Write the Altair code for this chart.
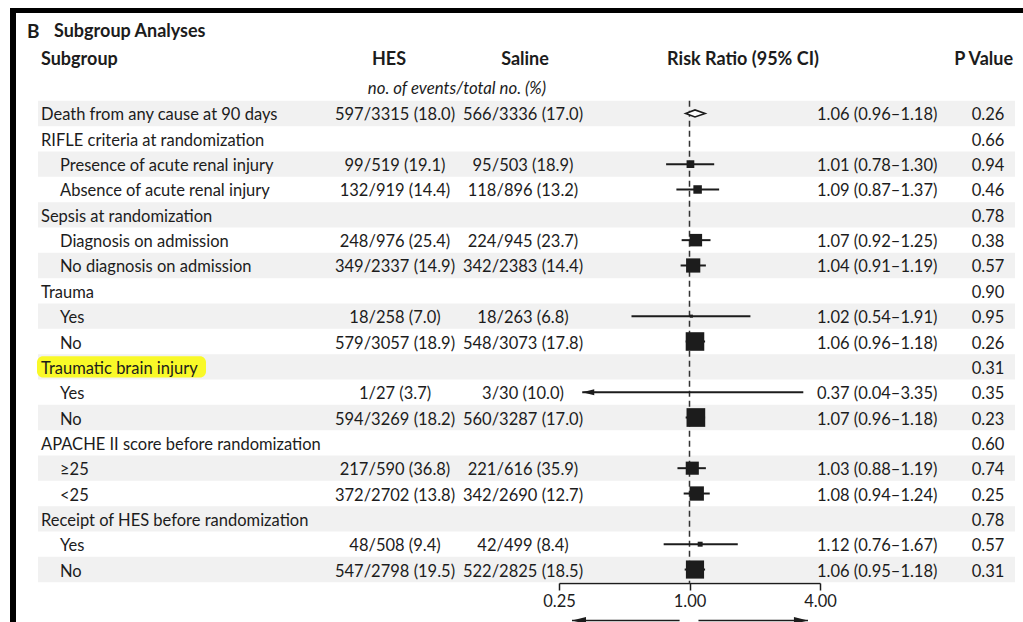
import altair as alt
import pandas as pd

# ---- subgroup table -------------------------------------------------------
subgroups = [
    "Death from any cause at 90 days",
    "RIFLE criteria at randomization",
    "Presence of acute renal injury",
    "Absence of acute renal injury",
    "Sepsis at randomization",
    "Diagnosis on admission",
    "No diagnosis on admission",
    "Trauma",
    "Yes",
    "No",
    "Traumatic brain injury",
    "Yes",
    "No",
    "APACHE II score before randomization",
    "\u226525",
    "<25",
    "Receipt of HES before randomization",
    "Yes",
    "No",
]
indented = [False, False, True, True, False, True, True, False, True, True,
            False, True, True, False, True, True, False, True, True]

hes_events = [597, None, 99, 132, None, 248, 349, None, 18, 579, None, 1, 594, None, 217, 372, None, 48, 547]
hes_total = [3315, None, 519, 919, None, 976, 2337, None, 258, 3057, None, 27, 3269, None, 590, 2702, None, 508, 2798]
hes_pct = [18.0, None, 19.1, 14.4, None, 25.4, 14.9, None, 7.0, 18.9, None, 3.7, 18.2, None, 36.8, 13.8, None, 9.4, 19.5]

sal_events = [566, None, 95, 118, None, 224, 342, None, 18, 548, None, 3, 560, None, 221, 342, None, 42, 522]
sal_total = [3336, None, 503, 896, None, 945, 2383, None, 263, 3073, None, 30, 3287, None, 616, 2690, None, 499, 2825]
sal_pct = [17.0, None, 18.9, 13.2, None, 23.7, 14.4, None, 6.8, 17.8, None, 10.0, 17.0, None, 35.9, 12.7, None, 8.4, 18.5]

risk_ratio = [1.06, None, 1.01, 1.09, None, 1.07, 1.04, None, 1.02, 1.06, None, 0.37, 1.07, None, 1.03, 1.08, None, 1.12, 1.06]
ci_low = [0.96, None, 0.78, 0.87, None, 0.92, 0.91, None, 0.54, 0.96, None, 0.04, 0.96, None, 0.88, 0.94, None, 0.76, 0.95]
ci_high = [1.18, None, 1.30, 1.37, None, 1.25, 1.19, None, 1.91, 1.18, None, 3.35, 1.18, None, 1.19, 1.24, None, 1.67, 1.18]

p_values = ["0.26", "0.66", "0.94", "0.46", "0.78", "0.38", "0.57", "0.90", "0.95", "0.26",
            "0.31", "0.35", "0.23", "0.60", "0.74", "0.25", "0.78", "0.57", "0.31"]

axis_ticks = [0.25, 1.0, 4.0]
display_floor = 0.32          # CIs reaching below this are drawn as arrows
highlight_label = "Traumatic brain injury"

INK = "#1c1c1c"
BAND = "#f1f1f1"
FONT = "Lato"
FS = 16.5
HFS = 18
DY = 2


def counts(e, t, p):
    if e is None:
        return ""
    return f"{e}/{t} ({p:.1f})"


rows = []
for i, name in enumerate(subgroups):
    rr, lo, hi = risk_ratio[i], ci_low[i], ci_high[i]
    rec = dict(
        row=i,
        label=name,
        indent=indented[i],
        hes=counts(hes_events[i], hes_total[i], hes_pct[i]),
        sal=counts(sal_events[i], sal_total[i], sal_pct[i]),
        p=p_values[i],
        rr=rr, lo=lo, hi=hi,
        rr_txt="" if rr is None else f"{rr:.2f} ({lo:.2f}\u2013{hi:.2f})",
    )
    if rr is not None:
        # box area follows the inverse variance of log(RR)
        var = (1 / hes_events[i] - 1 / hes_total[i]
               + 1 / sal_events[i] - 1 / sal_total[i])
        rec["weight"] = 1 / var
        rec["lo_draw"] = max(lo, display_floor)
        rec["clipped"] = lo < display_floor
    rows.append(rec)
df = pd.DataFrame(rows)
est = df[df["rr"].notna() & (df["row"] > 0)].copy()
overall = df[df["row"] == 0].iloc[0]

XS = alt.Scale(type="log", base=2, domain=[0.25, 4], range=[559, 820])
YS = alt.Scale(domain=[-0.5, 18.5], range=[100.8, 582.2])
XAX = alt.Axis(values=axis_ticks, format=".2f", title=None, grid=False, offset=-39,
               domainColor=INK, domainWidth=1.5, tickColor=INK, tickWidth=1.5,
               tickSize=7, labelFont=FONT, labelFontSize=FS, labelColor=INK,
               labelPadding=3, labelFlush=False, labelOverlap=False)


def X(field):
    return alt.X(field, type="quantitative", scale=XS, axis=XAX)


def Y(field):
    return alt.Y(field, type="quantitative", scale=YS, axis=None)


base = alt.Chart(df)

# alternating row shading
bands = base.transform_filter("datum.row % 2 == 0").transform_calculate(
    y0="datum.row - 0.5", y1="datum.row + 0.5"
).mark_rect(color=BAND).encode(
    x=alt.value(38), x2=alt.value(1015), y=Y("y0"), y2="y1"
)

highlight = base.transform_filter(
    alt.datum.label == highlight_label
).transform_calculate(
    y0="datum.row - 0.42", y1="datum.row + 0.42"
).mark_rect(color="#f9f928", cornerRadius=6).encode(
    x=alt.value(37), x2=alt.value(206), y=Y("y0"), y2="y1"
)

# line of no effect
ref = alt.Chart(pd.DataFrame({"x": [1.0], "y0": [-0.5], "y1": [18.55]})).mark_rule(
    color="#333333", strokeWidth=1.5, strokeDash=[6, 4]
).encode(x=X("x"), y=Y("y0"), y2="y1")

ci = alt.Chart(est).mark_rule(color=INK, strokeWidth=2).encode(
    x=X("lo_draw"), x2="hi", y=Y("row")
)

arrow_head = alt.Chart(est[est["clipped"]]).mark_point(
    shape="M -1 0 L 1 -0.5 L 1 0.5 Z", filled=True, color=INK, opacity=1,
    size=144, xOffset=6
).encode(x=X("lo_draw"), y=Y("row"))

boxes = alt.Chart(est).mark_square(color=INK, opacity=1).encode(
    x=X("rr"), y=Y("row"), size=alt.Size("weight:Q", scale=None, legend=None)
)

# open diamond for the overall estimate
dia_h = 0.14
diamond_df = pd.DataFrame({
    "x": [overall["lo"], overall["rr"], overall["hi"]],
    "y0": [0, -dia_h, 0],
    "y1": [0, dia_h, 0],
})
diamond = alt.Chart(diamond_df).mark_area(
    fill="white", stroke=INK, strokeWidth=1.6, opacity=1
).encode(x=X("x"), y=Y("y0"), y2="y1")

# direction arrows under the axis
dir_df = pd.DataFrame({"start": [0.9, 1.1], "end": [0.287, 3.52]})
dir_lines = alt.Chart(dir_df).mark_rule(color=INK, strokeWidth=1.5).encode(
    x=X("start"), x2="end", y=alt.value(620.5)
)
dir_left = alt.Chart(dir_df.iloc[[0]]).mark_point(
    shape="M -1 0 L 1 -0.5 L 1 0.5 Z", filled=True, color=INK, opacity=1, size=196, xOffset=7
).encode(x=X("end"), y=alt.value(620.5))
dir_right = alt.Chart(dir_df.iloc[[1]]).mark_point(
    shape="M 1 0 L -1 -0.5 L -1 0.5 Z", filled=True, color=INK, opacity=1, size=196, xOffset=-7
).encode(x=X("end"), y=alt.value(620.5))


def col_text(data, field, x, align):
    return alt.Chart(data).mark_text(
        font=FONT, fontSize=FS, color=INK, align=align, baseline="middle", dy=DY
    ).encode(text=f"{field}:N", x=alt.value(x), y=Y("row"))


labels_main = col_text(df[~df["indent"]], "label", 41, "left")
labels_sub = col_text(df[df["indent"]], "label", 60, "left")
hes_col = col_text(df, "hes", 395, "center")
sal_col = col_text(df, "sal", 523, "center")
rr_col = col_text(df, "rr_txt", 817, "left")
p_col = col_text(df, "p", 988, "center")


def head(text, x, y, align="left", bold=True, italic=False, size=HFS):
    return alt.Chart(pd.DataFrame({"t": [text]})).mark_text(
        font=FONT, fontSize=size, color=INK, align=align, baseline="middle",
        fontWeight="bold" if bold else "normal",
        fontStyle="italic" if italic else "normal", dy=DY,
    ).encode(text="t:N", x=alt.value(x), y=alt.value(y))


headers = [
    head("B", 27, 30, size=19),
    head("Subgroup Analyses", 54, 30),
    head("Subgroup", 41, 58),
    head("HES", 389, 58, "center"),
    head("Saline", 525, 58, "center"),
    head("Risk Ratio (95% CI)", 743, 58, "center"),
    head("P Value", 1013, 58, "right"),
    head("no. of events/total no. (%)", 457, 87, "center", bold=False, italic=True, size=FS + 0.3),
]

one = pd.DataFrame({"a": [0]})
frame_left = alt.Chart(one).mark_rect(color="black").encode(
    x=alt.value(10), x2=alt.value(16), y=alt.value(8), y2=alt.value(622)
)
frame_top = alt.Chart(one).mark_rect(color="black").encode(
    x=alt.value(10), x2=alt.value(1023), y=alt.value(8), y2=alt.value(13)
)

chart = alt.layer(
    bands, highlight, ref, ci, arrow_head, diamond, boxes,
    dir_lines, dir_left, dir_right,
    labels_main, labels_sub, hes_col, sal_col, rr_col, p_col,
    *headers, frame_left, frame_top,
).properties(
    width=1023, height=622,
    autosize=alt.AutoSizeParams(type="none"),
    padding=0,
    background="white",
).configure_view(stroke=None)

chart.save("out.html", embed_options={"renderer": "svg", "actions": False})
